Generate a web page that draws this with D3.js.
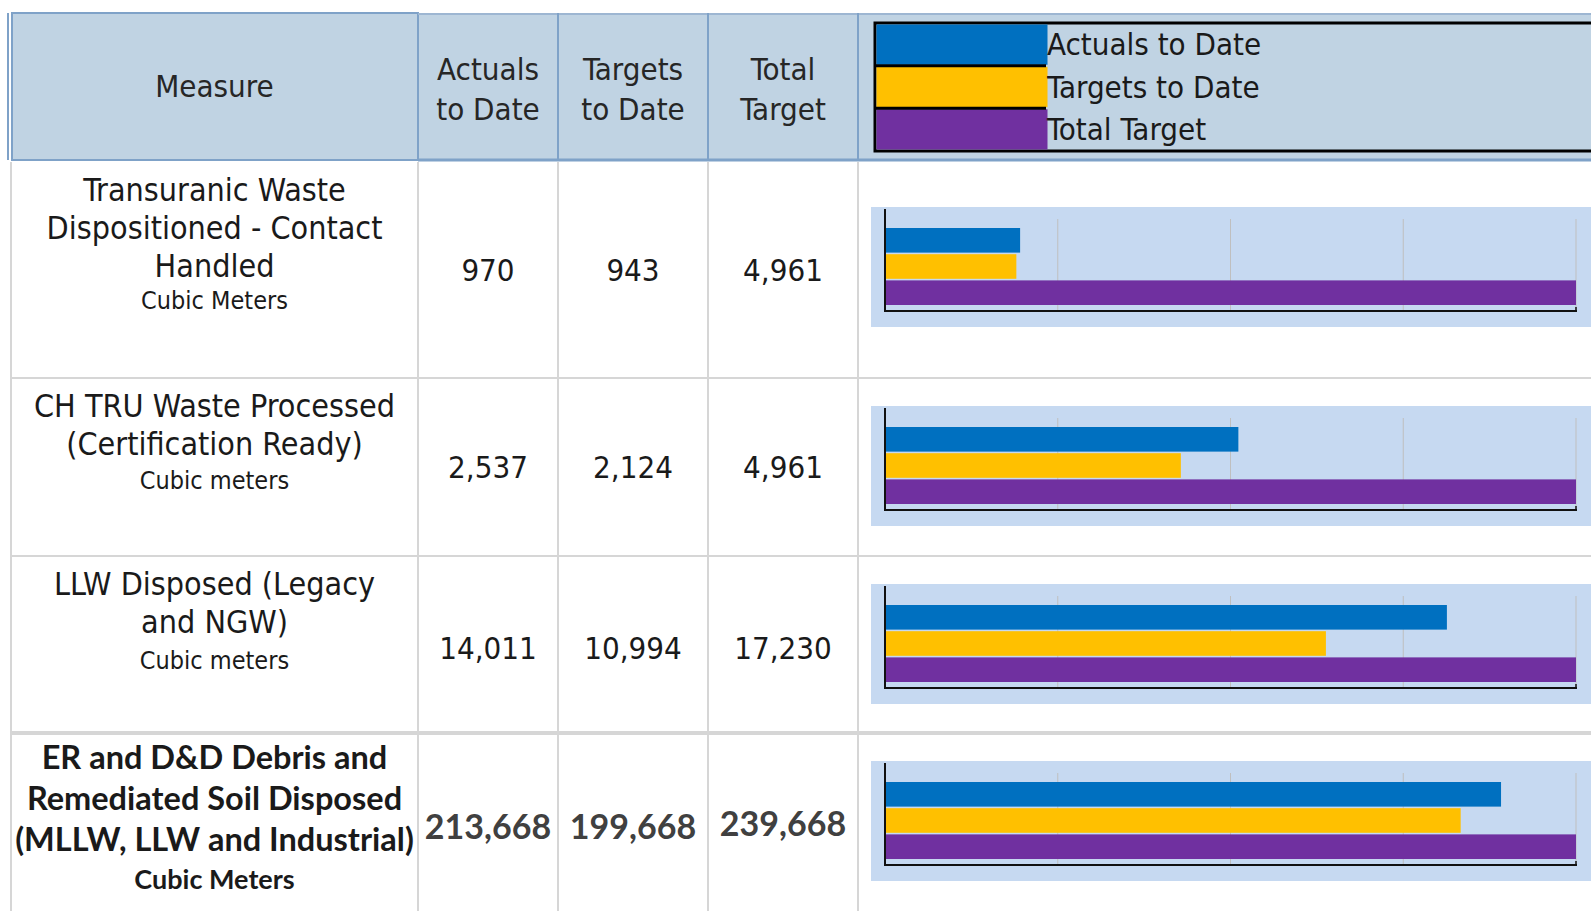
<!DOCTYPE html>
<html>
<head>
<meta charset="utf-8">
<script src="https://cdn.jsdelivr.net/npm/d3@7"></script>
<style>
  body { margin: 0; background: #ffffff; overflow: hidden; }
  svg { display: block; }
  .cond { font-family: "DejaVu Sans Condensed", "DejaVu Sans", sans-serif; font-stretch: condensed; }
  .bold { font-family: Lato, "Open Sans", sans-serif; font-weight: 700; }
</style>
</head>
<body>
<div id="chart"></div>
<script>
// table data
let measureLines = [
    ["Transuranic Waste", "Dispositioned - Contact", "Handled"],
    ["CH TRU Waste Processed", "(Certification Ready)"],
    ["LLW Disposed (Legacy", "and NGW)"],
    ["ER and D&D Debris and", "Remediated Soil Disposed", "(MLLW, LLW and Industrial)"]
];
let units = ["Cubic Meters", "Cubic meters", "Cubic meters", "Cubic Meters"];
let actuals = [970, 2537, 14011, 213668];
let targets = [943, 2124, 10994, 199668];
let totals = [4961, 4961, 17230, 239668];

let headerLabels = [["Measure"], ["Actuals", "to Date"], ["Targets", "to Date"], ["Total", "Target"]];
let seriesNames = ["Actuals to Date", "Targets to Date", "Total Target"];
let seriesColors = ["#0070c0", "#ffc000", "#7030a0"];

const W = 1591, H = 911;
let svg = d3.select("#chart").append("svg")
    .attr("width", W)
    .attr("height", H);

// layout
let colEdges = [11, 418, 558, 708, 858];
let rowEdges = [162, 378, 556, 733, H];
let headTop = 13, headBottom = 160;
let plotLeft = 885, plotRight = 1576;

// header band
svg.append("rect")
    .attr("x", colEdges[0]).attr("y", headTop)
    .attr("width", W - colEdges[0]).attr("height", headBottom - headTop)
    .attr("fill", "#c0d3e3");

// outer left double line
svg.append("line")
    .attr("x1", 8).attr("x2", 8).attr("y1", headTop).attr("y2", headBottom)
    .attr("stroke", "#7fa2c8").attr("stroke-width", 2);

// header borders
svg.append("rect")
    .attr("x", colEdges[0] + 1).attr("y", headTop)
    .attr("width", colEdges[1] - colEdges[0] - 1).attr("height", headBottom - headTop)
    .attr("fill", "none").attr("stroke", "#7fa2c8").attr("stroke-width", 2);
svg.append("line")
    .attr("x1", colEdges[1]).attr("x2", W).attr("y1", headTop + 1).attr("y2", headTop + 1)
    .attr("stroke", "#9db6d2").attr("stroke-width", 2);
svg.append("line")
    .attr("x1", colEdges[1]).attr("x2", W).attr("y1", headBottom).attr("y2", headBottom)
    .attr("stroke", "#7fa2c8").attr("stroke-width", 3);
colEdges.slice(2).forEach(x => {
    svg.append("line")
        .attr("x1", x).attr("x2", x).attr("y1", headTop).attr("y2", headBottom)
        .attr("stroke", "#7fa2c8").attr("stroke-width", 2);
});

// body grid lines
colEdges.forEach(x => {
    svg.append("line")
        .attr("x1", x).attr("x2", x).attr("y1", headBottom + 2).attr("y2", H)
        .attr("stroke", "#d6d6d6").attr("stroke-width", 2);
});
rowEdges.slice(1, 4).forEach((y, i) => {
    svg.append("line")
        .attr("x1", colEdges[0]).attr("x2", W).attr("y1", y).attr("y2", y)
        .attr("stroke", "#d6d6d6").attr("stroke-width", i == 2 ? 4 : 2);
});

// header text
headerLabels.forEach((lines, c) => {
    let cx = (colEdges[c] + colEdges[c + 1]) / 2;
    let t = svg.append("text")
        .attr("class", "cond")
        .attr("text-anchor", "middle")
        .attr("font-size", 31)
        .attr("fill", "#262626");
    lines.forEach((s, j) => {
        let cy = lines.length == 1 ? 86 : 69 + j * 40;
        t.append("tspan").attr("x", cx).attr("y", cy).attr("dy", "0.35em").text(s);
    });
});

// legend
let legX = 875, legTop = 23, legBottom = 151;
svg.append("rect")
    .attr("x", legX).attr("y", legTop)
    .attr("width", W - legX + 5).attr("height", legBottom - legTop)
    .attr("fill", "#c0d3e3").attr("stroke", "#000").attr("stroke-width", 3);
let legY = d3.scaleBand().domain(d3.range(seriesNames.length)).range([legTop + 1.5, legBottom - 1.5]).paddingInner(0.05);
seriesNames.forEach((name, i) => {
    svg.append("rect")
        .attr("x", legX + 1.5).attr("y", legY(i))
        .attr("width", 1046 - legX).attr("height", legY.bandwidth())
        .attr("fill", seriesColors[i]);
    svg.append("text")
        .attr("class", "cond")
        .attr("x", 1047).attr("y", legY(i) + legY.bandwidth() / 2)
        .attr("dy", "0.35em")
        .attr("font-size", 31)
        .attr("fill", "#1a1a1a")
        .text(name);
});
// black separators between swatch rows
for (let i = 1; i < seriesNames.length; i++) {
    let y = legY(i) - legY.step() * legY.paddingInner() / 2;
    svg.append("line")
        .attr("x1", legX).attr("x2", 1046).attr("y1", y).attr("y2", y)
        .attr("stroke", "#000").attr("stroke-width", 3);
}

// rows
actuals.forEach((a, r) => {
    let top = rowEdges[r], bottom = rowEdges[r + 1];
    let mid = (top + bottom) / 2;
    let isBold = r == 3;
    let lineGap = isBold ? 41 : 38;
    let firstY = top + (isBold ? 25 : 28);

    // measure label
    let lab = svg.append("text")
        .attr("class", isBold ? "bold" : "cond")
        .attr("text-anchor", "middle")
        .attr("fill", "#1a1a1a");
    let cx = (colEdges[0] + colEdges[1]) / 2;
    measureLines[r].forEach((s, j) => {
        lab.append("tspan")
            .attr("x", cx).attr("y", firstY + j * lineGap).attr("dy", "0.35em")
            .attr("font-size", isBold ? 32.5 : 32)
            .text(s);
    });
    lab.append("tspan")
        .attr("x", cx).attr("y", firstY + (measureLines[r].length - 1) * lineGap + 34 + (isBold ? 6 : r * 2))
        .attr("dy", "0.35em")
        .attr("font-size", isBold ? 27 : 25)
        .text(units[r]);

    // number cells
    let fmt = d3.format(",");
    [a, targets[r], totals[r]].forEach((v, c) => {
        svg.append("text")
            .attr("class", isBold ? "bold" : "cond")
            .attr("x", (colEdges[c + 1] + colEdges[c + 2]) / 2)
            .attr("y", mid + (isBold ? 5 : 0) - (isBold && c == 2 ? 3 : 0) + (r == 2 ? 4 : 0))
            .attr("dy", "0.35em")
            .attr("text-anchor", "middle")
            .attr("font-size", isBold ? 34 : 31)
            .attr("fill", isBold ? "#404040" : "#1a1a1a")
            .text(fmt(v));
    });

    // bar panel
    let pTop = Math.round(mid - 61 - (r == 0 ? 2 : 0));
    svg.append("rect")
        .attr("x", 871).attr("y", pTop)
        .attr("width", W - 871).attr("height", 120)
        .attr("fill", "#c6d9f1");

    let x = d3.scaleLinear().domain([0, totals[r]]).range([plotLeft, plotRight]);
    let y = d3.scaleBand().domain(d3.range(3)).range([pTop + 21, pTop + 98]).paddingInner(0.06);
    let axisY = pTop + 104;

    // gridlines
    let grid = svg.append("g");
    grid.selectAll("line")
        .data(d3.range(1, 5).map(i => totals[r] * i / 4))
        .enter().append("line")
        .attr("x1", d => x(d)).attr("x2", d => x(d))
        .attr("y1", pTop + 12).attr("y2", axisY)
        .attr("stroke", "#bfbfbf").attr("stroke-width", 1);

    // bars
    let vals = [a, targets[r], totals[r]];
    svg.append("g").selectAll("rect")
        .data(vals)
        .enter().append("rect")
        .attr("x", plotLeft)
        .attr("y", (d, i) => y(i))
        .attr("width", d => x(d) - plotLeft)
        .attr("height", y.bandwidth())
        .attr("fill", (d, i) => seriesColors[i]);

    // axes
    svg.append("line")
        .attr("x1", plotLeft).attr("x2", plotLeft)
        .attr("y1", pTop + 2).attr("y2", axisY + 1)
        .attr("stroke", "#111").attr("stroke-width", 2);
    svg.append("line")
        .attr("x1", plotLeft).attr("x2", plotRight + 1)
        .attr("y1", axisY).attr("y2", axisY)
        .attr("stroke", "#111").attr("stroke-width", 2);
    svg.append("line")
        .attr("x1", plotRight).attr("x2", plotRight)
        .attr("y1", axisY - 4).attr("y2", axisY)
        .attr("stroke", "#111").attr("stroke-width", 1.5);
});
</script>
</body>
</html>
